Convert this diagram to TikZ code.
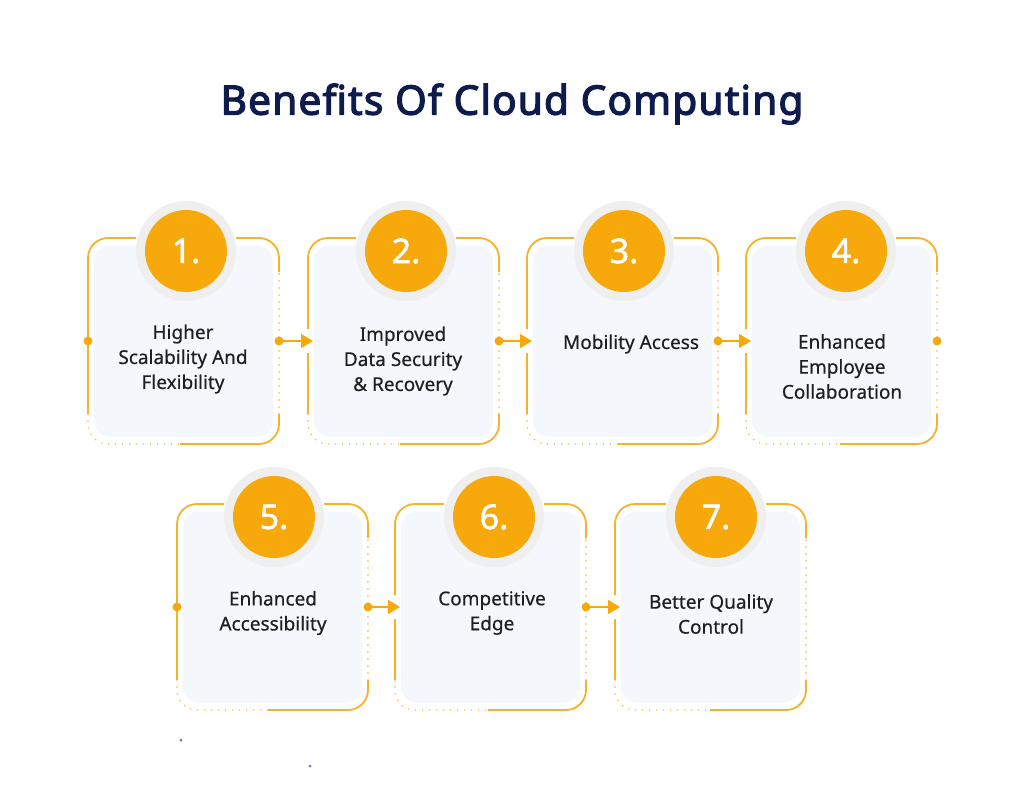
\documentclass[tikz,border=0pt]{standalone}
\usepackage{fontspec}
\setmainfont{Noto Sans}[FakeBold=0.4]
\newfontfamily\titlefont{Noto Sans}[FakeBold=3,LetterSpace=3]
\newfontfamily\numfont{Noto Sans}[FakeBold=1.6]
\newfontfamily\bodyfont{Noto Sans}[FakeBold=0.45]
\usetikzlibrary{arrows.meta}
\definecolor{orng}{HTML}{F7A80A}
\definecolor{lineor}{HTML}{F5B22A}
\definecolor{cardbg}{HTML}{F4F8FC}
\definecolor{ringgray}{HTML}{EFEFEF}
\definecolor{navy}{HTML}{0E1B4D}
\definecolor{txt}{HTML}{1F1F1F}
\definecolor{speck}{HTML}{7B6BC0}
\tikzset{
 solidline/.style={draw=lineor, line width=1.8pt, rounded corners=20pt},
 dotline/.style={draw=lineor, line width=1.6pt, line cap=round, dash pattern=on 0pt off 7pt, rounded corners=20pt},
 cardfill/.style={fill=cardbg, rounded corners=16pt, minimum width=179pt, minimum height=191pt, inner sep=0pt},
 numring/.style={circle, fill=ringgray, minimum size=100pt, inner sep=0pt},
 numcirc/.style={circle, fill=orng, minimum size=82pt, inner sep=0pt, text=white, font=\numfont\fontsize{34}{34}\selectfont},
 benefittext/.style={align=center, text=txt, font=\bodyfont\fontsize{19}{25}\selectfont},
 dotmark/.style={circle, fill=orng, minimum size=9pt, inner sep=0pt},
 conn/.style={draw=orng, line width=1.8pt, -{Triangle[length=12pt,width=14pt]}},
}
% #1 id, #2 x0, #3 y0, #4 number, #5 gap, #6 circle offset
\newcommand\benefitcard[6]{%
 \node[cardfill] (card#1) at ({#2+95.5},{#3+103}) {};
 \draw[solidline] ({#2+#6-50},{#3}) -- ({#2},{#3}) -- ({#2},{#3+103-#5});
 \draw[solidline] ({#2},{#3+103+#5}) -- ({#2},{#3+176});
 \draw[dotline] ({#2},{#3+176}) -- ({#2},{#3+206}) -- ({#2+#6-6},{#3+206});
 \draw[solidline] ({#2+#6-6},{#3+206}) -- ({#2+191},{#3+206}) -- ({#2+191},{#3+176});
 \draw[dotline] ({#2+191},{#3+176}) -- ({#2+191},{#3+34});
 \draw[solidline] ({#2+191},{#3+34}) -- ({#2+191},{#3}) -- ({#2+#6+50},{#3});
 \node[numring] (ring#1) at ({#2+#6},{#3+13}) {};
 \node[numcirc] (num#1) at (ring#1) {#4};
 \coordinate (in#1) at ({#2+5},{#3+103});
 \coordinate (out#1) at ({#2+191},{#3+103});
}
\begin{document}
\begin{tikzpicture}[x=1pt,y=-1pt]
\useasboundingbox[fill=white] (0,0) rectangle (1024,792);
\node[font=\titlefont\fontsize{40.5}{42}\selectfont, text=navy] (title) at (512,104) {Benefits Of Cloud Computing};

\benefitcard{1}{88}{238}{1.}{0}{98}
\benefitcard{2}{308}{238}{2.}{12}{98}
\benefitcard{3}{527}{238}{3.}{12}{97}
\benefitcard{4}{746}{238}{4.}{12}{100}
\benefitcard{5}{177}{504}{5.}{0}{97}
\benefitcard{6}{395}{504}{6.}{12}{99}
\benefitcard{7}{615}{504}{7.}{12}{101}

\node[benefittext] (t1) at (183,359) {Higher\\Scalability And\\Flexibility};
\node[benefittext] (t2) at (403,361) {Improved\\Data Security\\\& Recovery};
\node[benefittext] (t3) at (631,344) {Mobility Access};
\node[benefittext] (t4) at (842,366.5) {Enhanced\\Employee\\Collaboration};
\node[benefittext] (t5) at (273,613) {Enhanced\\Accessibility};
\node[benefittext] (t6) at (492,613) {Competitive\\Edge};
\node[benefittext] (t7) at (711,614) {Better Quality\\Control};

\node[dotmark] (ldot1) at (88,341) {};
\node[dotmark] (ldot5) at (177,607) {};
\node[dotmark] (dot4) at (out4) {};
\draw[conn] (out1) -- (in2);
\draw[conn] (out2) -- (in3);
\draw[conn] (out3) -- (in4);
\draw[conn] (out5) -- (in6);
\draw[conn] (out6) -- (in7);
\node[dotmark] (dot1) at (out1) {};
\node[dotmark] (dot2) at (out2) {};
\node[dotmark] (dot3) at (out3) {};
\node[dotmark] (dot5) at (out5) {};
\node[dotmark] (dot6) at (out6) {};

\node[circle, fill=speck, minimum size=3pt, inner sep=0pt] (speck1) at (181,740) {};
\node[circle, fill=speck, minimum size=3pt, inner sep=0pt] (speck2) at (310,766) {};
\end{tikzpicture}
\end{document}
